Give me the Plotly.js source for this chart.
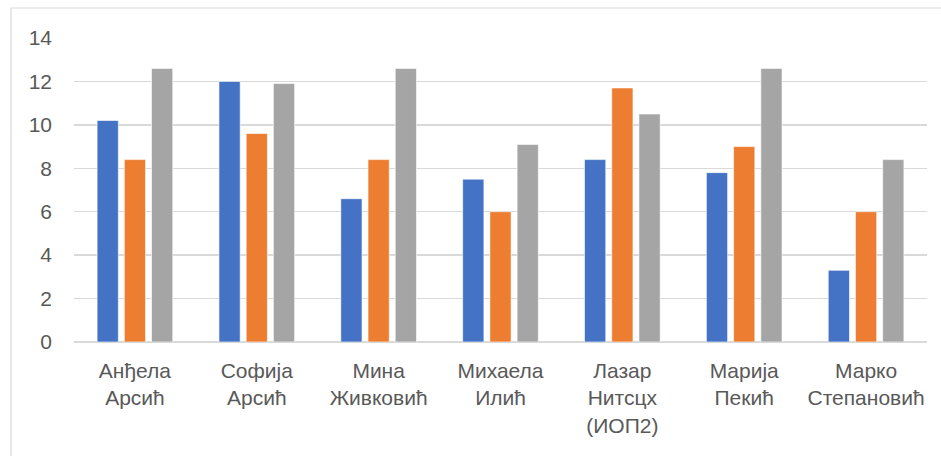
<!DOCTYPE html>
<html>
<head>
<meta charset="utf-8">
<script src="https://cdn.plot.ly/plotly-3.0.1.min.js"></script>
<style>
html,body{margin:0;padding:0;background:#fff;}
#chart{width:941px;height:456px;}
</style>
</head>
<body>
<div id="chart"></div>
<script>
const categories = ["Анђела<br>Арсић", "Софија<br>Арсић", "Мина<br>Живковић", "Михаела<br>Илић", "Лазар<br>Нитсцх<br>(ИОП2)", "Марија<br>Пекић", "Марко<br>Степановић"];
const series1 = [10.2, 12.0, 6.6, 7.5, 8.4, 7.8, 3.3];
const series2 = [8.4, 9.6, 8.4, 6.0, 11.7, 9.0, 6.0];
const series3 = [12.6, 11.9, 12.6, 9.1, 10.5, 12.6, 8.4];
const yTicks = [0, 2, 4, 6, 8, 10, 12, 14];

const colors = ["#4472C4", "#ED7D31", "#A5A5A5"];
const allSeries = [series1, series2, series3];
const traces = allSeries.map((s, i) => ({
  type: "bar",
  x: categories,
  y: s,
  marker: {color: colors[i], line: {color: "#ffffff", width: 0.6}},
  hoverinfo: "none"
}));

const layout = {
  width: 941,
  height: 456,
  margin: {l: 74, r: 14, t: 38, b: 114},
  paper_bgcolor: "#ffffff",
  plot_bgcolor: "#ffffff",
  showlegend: false,
  barmode: "group",
  bargap: 0.33,
  bargroupgap: 0.22,
  font: {family: "Liberation Sans, Arial, sans-serif", color: "#595959", size: 21},
  xaxis: {
    type: "category",
    showgrid: false,
    showline: false,
    ticks: "",
    tickfont: {size: 21, color: "#595959"},
    ticklabelstandoff: 14,
    fixedrange: true
  },
  yaxis: {
    range: [0, 14],
    tickvals: yTicks,
    ticktext: yTicks.map(String),
    showgrid: true,
    gridcolor: "#D9D9D9",
    gridwidth: 1.5,
    zeroline: true,
    zerolinecolor: "#D9D9D9",
    zerolinewidth: 1.5,
    showline: false,
    ticks: "",
    tickfont: {size: 21, color: "#595959"},
    ticklabelstandoff: 21,
    fixedrange: true
  },
  shapes: [{
    type: "rect",
    xref: "paper", yref: "paper",
    x0: (11 - 74) / 853, x1: (960 - 74) / 853,
    y0: (342 - 470) / 304, y1: (342 - 8) / 304,
    line: {color: "#D9D9D9", width: 1.2},
    fillcolor: "rgba(0,0,0,0)",
    layer: "below"
  }]
};

Plotly.newPlot("chart", traces, layout, {displayModeBar: false, staticPlot: true});
</script>
</body>
</html>
